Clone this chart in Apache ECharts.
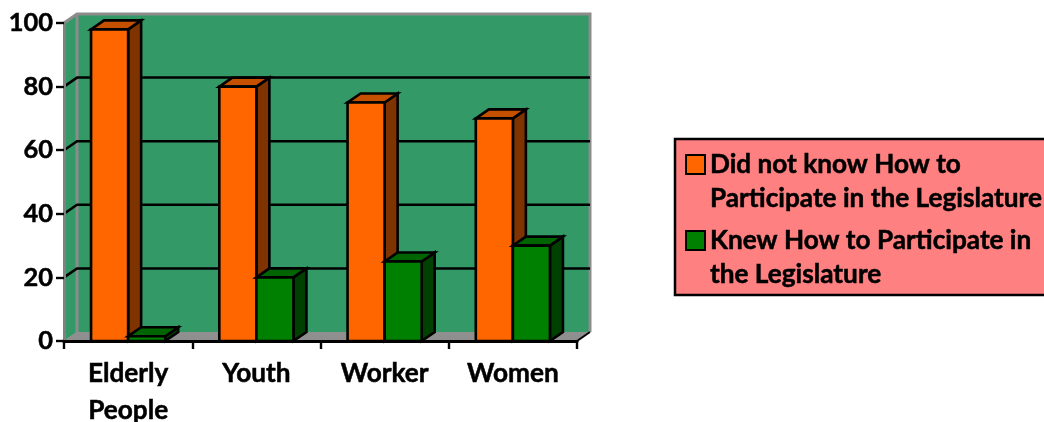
<!DOCTYPE html>
<html>
<head>
<meta charset="utf-8">
<style>html,body{margin:0;padding:0;background:#fff}#c{width:1044px;height:422px}</style>
<script src="https://cdn.jsdelivr.net/npm/echarts@6/dist/echarts.min.js"></script>
</head>
<body>
<div id="c"></div>
<script>
const categories = ['Elderly\nPeople', 'Youth', 'Worker', 'Women'];
const didNotKnow = [98, 80, 75, 70];
const knew = [1.5, 20, 25, 30];
const gridTicks = [20, 40, 60, 80];
const seriesNames = ['Did not know How to Participate in the Legislature', 'Knew How to Participate in the Legislature'];
const legendLabels = {
  [seriesNames[0]]: 'Did not know How to\nParticipate in the Legislature',
  [seriesNames[1]]: 'Knew How to Participate in\nthe Legislature'
};
const DX = 13, DY = -9;
const FONT = 'Lato';
const LABEL_SIZE = 26.2;
const LEGEND_ICON = 'path://M0 0L0 0M0 7H19V26H0ZM0 68L0 68';

function barRenderer(offsetSign, front, top, side) {
  return function (params, api) {
    const cat = api.value(0), val = api.value(1);
    const base = api.coord([cat, 0]);
    const tip = api.coord([cat, val]);
    const w = api.size([1, 0])[0] * 0.289;
    const x0 = offsetSign < 0 ? base[0] - w : base[0];
    const x1 = x0 + w, y0 = base[1], y1 = tip[1];
    const st = { stroke: '#000', lineWidth: 2.6, lineJoin: 'miter' };
    return {
      type: 'group',
      children: [
        { type: 'polygon', shape: { points: [[x1, y0], [x1 + DX, y0 + DY], [x1 + DX, y1 + DY], [x1, y1]] }, style: Object.assign({ fill: side }, st) },
        { type: 'polygon', shape: { points: [[x0, y1], [x1, y1], [x1 + DX, y1 + DY], [x0 + DX, y1 + DY]] }, style: Object.assign({ fill: top }, st) },
        { type: 'rect', shape: { x: x0, y: y1, width: w, height: y0 - y1 }, style: Object.assign({ fill: front }, st) }
      ]
    };
  };
}

function wallRenderer(params, api) {
  const a = api.coord([0, 0]);
  const b = api.coord([categories.length - 1, 100]);
  const band = api.size([1, 0])[0];
  const xl = a[0] - band / 2, xr = b[0] + band / 2, yb = a[1], yt = b[1];
  const edge = { stroke: '#8c8c8c', lineWidth: 3 };
  const thin = { stroke: '#8c8c8c', lineWidth: 1 };
  return {
    type: 'group',
    children: [
      { type: 'polygon', shape: { points: [[xl + DX, yb + DY], [xr + DX, yb + DY], [xr + DX, yt + DY], [xl + DX, yt + DY]] }, style: { fill: '#339966' } },
      { type: 'polygon', shape: { points: [[xl, yb], [xl + DX, yb + DY], [xl + DX, yt + DY], [xl, yt]] }, style: { fill: '#339966' } },
      { type: 'polygon', shape: { points: [[xl, yb], [xr, yb], [xr + DX, yb + DY], [xl + DX, yb + DY]] }, style: { fill: '#8f8f8f' } },
      { type: 'polyline', shape: { points: [[xl, yt], [xl + DX, yt + DY], [xr + DX, yt + DY], [xr + DX, yb + DY]] }, style: Object.assign({ fill: 'none' }, edge) },
      { type: 'line', shape: { x1: xl + DX, y1: yt + DY, x2: xl + DX, y2: yb + DY }, style: edge },
      { type: 'line', shape: { x1: xl, y1: yb, x2: xl + DX, y2: yb + DY }, style: thin },
      { type: 'line', shape: { x1: xr, y1: yb, x2: xr + DX, y2: yb + DY }, style: { stroke: '#000', lineWidth: 2 } }
    ]
  };
}

function gridRenderer(params, api) {
  const a = api.coord([0, api.value(0)]);
  const band = api.size([1, 0])[0];
  const b = api.coord([categories.length - 1, api.value(0)]);
  const xl = a[0] - band / 2, xr = b[0] + band / 2, y = a[1];
  return {
    type: 'polyline',
    shape: { points: [[xl, y], [xl + DX, y + DY], [xr + DX, y + DY]] },
    style: { fill: 'none', stroke: '#000', lineWidth: 2.5 }
  };
}

const chart = echarts.init(document.getElementById('c'), null, { renderer: 'canvas' });
chart.setOption({
  backgroundColor: '#fff',
  animation: false,
  textStyle: { fontFamily: FONT },
  grid: { left: 64, right: 467, top: 23, bottom: 81, outerBoundsMode: 'none', containLabel: false },
  xAxis: {
    type: 'category',
    data: categories,
    z: 6,
    axisLine: { lineStyle: { color: '#000', width: 3 } },
    axisTick: { show: true, length: 8, lineStyle: { color: '#000', width: 2.4 } },
    axisLabel: { color: '#000', fontFamily: FONT, fontWeight: 'bold', fontSize: LABEL_SIZE, lineHeight: 37, margin: 14, interval: 0, textBorderColor: '#000', textBorderWidth: 0.5 }
  },
  yAxis: {
    type: 'value',
    min: 0,
    max: 100,
    interval: 20,
    z: 5,
    splitLine: { show: false },
    axisLine: { show: true, lineStyle: { color: '#808080', width: 3 } },
    axisTick: { show: true, length: 8, lineStyle: { color: '#000', width: 2.4 } },
    axisLabel: { color: '#000', fontFamily: FONT, fontWeight: 'bold', fontSize: 25.4, margin: 11, textBorderColor: '#000', textBorderWidth: 0.5 }
  },
  legend: {
    left: 675,
    top: 139,
    orient: 'vertical',
    align: 'left',
    data: seriesNames,
    backgroundColor: '#ff8080',
    borderColor: '#000',
    borderWidth: 2.5,
    padding: [8, 30, 2, 10],
    itemWidth: 19,
    itemHeight: 68,
    itemGap: 6,
    selectedMode: false,
    icon: LEGEND_ICON,
    formatter: function (n) { return legendLabels[n]; },
    textStyle: { color: '#000', fontFamily: FONT, fontWeight: 'bold', fontSize: LABEL_SIZE, lineHeight: 34, textBorderColor: '#000', textBorderWidth: 0.5 }
  },
  series: [
    { type: 'custom', name: 'wall', z: 1, silent: true, data: [[0]], renderItem: wallRenderer, encode: { x: -1, y: -1 } },
    { type: 'custom', name: 'grid', z: 2, silent: true, data: gridTicks.map(v => [v]), renderItem: gridRenderer, encode: { x: -1, y: -1 } },
    { type: 'custom', name: seriesNames[0], z: 3, data: categories.map((c, i) => [i, didNotKnow[i]]),
      itemStyle: { color: '#ff6600', borderColor: '#000', borderWidth: 2.5 },
      renderItem: barRenderer(-1, '#ff6600', '#c45000', '#7f3300'), encode: { x: 0, y: 1 } },
    { type: 'custom', name: seriesNames[1], z: 4, data: categories.map((c, i) => [i, knew[i]]),
      itemStyle: { color: '#008000', borderColor: '#000', borderWidth: 2.5 },
      renderItem: barRenderer(1, '#008000', '#006400', '#004000'), encode: { x: 0, y: 1 } }
  ]
});
</script>
</body>
</html>
